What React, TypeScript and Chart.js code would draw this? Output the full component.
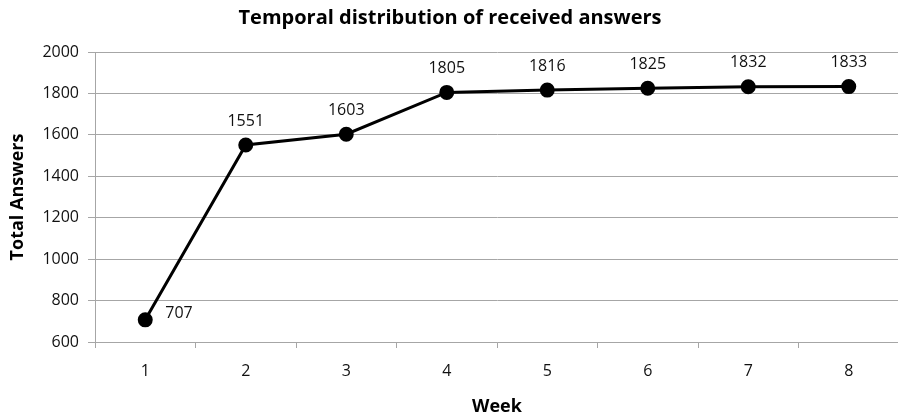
import React, { useEffect, useRef } from "react";
import { Chart, registerables } from "chart.js";

Chart.register(...registerables);

const weeks = ["1", "2", "3", "4", "5", "6", "7", "8"];
const totalAnswers = [707, 1551, 1603, 1805, 1816, 1825, 1832, 1833];
const yMin = 600;
const yMax = 2000;
const yStep = 200;
const chartTitle = "Temporal distribution of received answers";
const xTitle = "Week";
const yTitle = "Total Answers";

const FONT = "'Open Sans', 'DejaVu Sans', sans-serif";
const TEXT = "#111";
const GRID = "#a6a6a6";

const labelPlugin = {
  id: "pointLabels",
  afterDatasetsDraw(chart: any) {
    const ctx = chart.ctx;
    const meta = chart.getDatasetMeta(0);
    const data = chart.data.datasets[0].data;
    ctx.save();
    ctx.font = `16px ${FONT}`;
    ctx.fillStyle = TEXT;
    ctx.textBaseline = "middle";
    meta.data.forEach((pt: any, i: number) => {
      const text = String(data[i]);
      if (i === 0) {
        ctx.textAlign = "left";
        ctx.fillText(text, pt.x + 20, pt.y - 6);
      } else {
        ctx.textAlign = "center";
        ctx.fillText(text, pt.x, pt.y - 24);
      }
    });
    ctx.restore();
  },
};

const titlePlugin = {
  id: "customTitle",
  afterDraw(chart: any) {
    const ctx = chart.ctx;
    ctx.save();
    ctx.font = `bold 20px ${FONT}`;
    ctx.fillStyle = "#000";
    ctx.textAlign = "center";
    ctx.textBaseline = "middle";
    ctx.fillText(chartTitle, 450, 18);
    ctx.restore();
  },
};

export default function App() {
  const ref = useRef<HTMLCanvasElement | null>(null);
  useEffect(() => {
    if (!ref.current) return;
    const chart = new Chart(ref.current, {
      type: "line",
      data: {
        labels: weeks,
        datasets: [
          {
            data: totalAnswers,
            borderColor: "#000",
            backgroundColor: "#000",
            borderWidth: 3,
            pointRadius: 6,
            pointBackgroundColor: "#000",
            pointBorderColor: "#000",
            tension: 0,
          },
        ],
      },
      options: {
        responsive: false,
        animation: false,
        layout: { padding: { top: 52, right: 0, left: 0, bottom: 0 } },
        plugins: {
          legend: { display: false },
          tooltip: { enabled: false },
          title: { display: false },
        },
        scales: {
          x: {
            type: "category",
            offset: true,
            grid: {
              offset: true,
              drawOnChartArea: false,
              drawTicks: true,
              tickLength: 6,
              color: GRID,
            },
            border: { display: true, color: GRID, width: 1 },
            ticks: {
              color: TEXT,
              font: { family: FONT, size: 16 },
              padding: 14,
              maxRotation: 0,
            },
            title: {
              display: true,
              text: xTitle,
              color: "#000",
              font: { family: FONT, size: 18, weight: "bold" },
              padding: { top: 0, bottom: 1 },
            },
            afterFit(scale: any) {
              scale.height = 77;
            },
          },
          y: {
            min: yMin,
            max: yMax,
            ticks: {
              stepSize: yStep,
              color: TEXT,
              font: { family: FONT, size: 16 },
              padding: 9,
              callback: (v: any) => String(v),
            },
            grid: {
              color: GRID,
              tickLength: 7,
              drawTicks: true,
            },
            border: { display: true, color: GRID, width: 1 },
            title: {
              display: true,
              text: yTitle,
              color: "#000",
              font: { family: FONT, size: 18, weight: "bold" },
              padding: { top: 7, bottom: 0 },
            },
            afterFit(scale: any) {
              scale.width = 95;
            },
          },
        },
      },
      plugins: [labelPlugin, titlePlugin],
    } as any);
    return () => chart.destroy();
  }, []);
  return (
    <div style={{ position: "fixed", left: 0, top: 0, width: 898, height: 419, overflow: "hidden", background: "#fff" }}>
      <canvas ref={ref} width={908} height={419} style={{ display: "block" }} />
    </div>
  );
}
